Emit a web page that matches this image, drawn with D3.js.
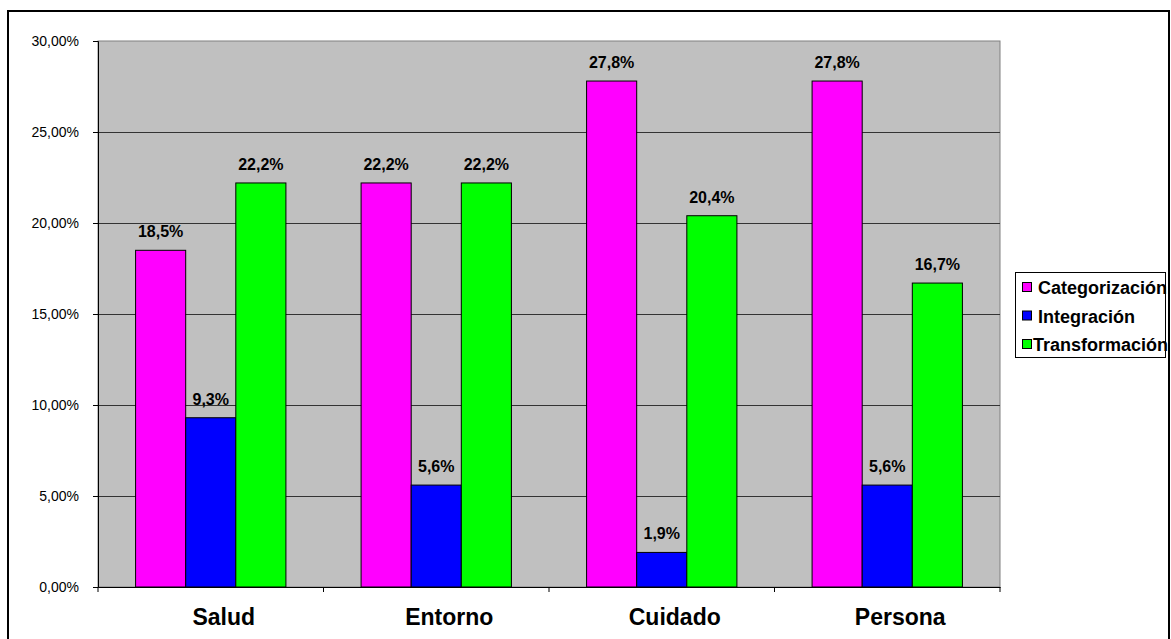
<!DOCTYPE html>
<html><head><meta charset="utf-8">
<script src="https://cdn.jsdelivr.net/npm/d3@7/dist/d3.min.js"></script>
<style>body{margin:0;background:#fff;} svg{display:block;} text{font-family:"Liberation Sans",Arial,sans-serif !important;}</style>
</head><body>
<script>
const categories = ["Salud","Entorno","Cuidado","Persona"];
const seriesNames = ["Categorización","Integración","Transformación"];
const categorizacion = [18.5,22.2,27.8,27.8];
const integracion = [9.3,5.6,1.9,5.6];
const transformacion = [22.2,22.2,20.4,16.7];
const yTicks = [0,5,10,15,20,25,30];
const colors = ["#ff00ff","#0000ff","#00ff00"];
const series = [categorizacion, integracion, transformacion];

const W=1171,H=639;
const svg=d3.select("body").append("svg").attr("width",W).attr("height",H);
const defs=svg.append("defs");
defs.append("clipPath").attr("id","frame").append("rect").attr("x",8).attr("y",11).attr("width",1161).attr("height",700);

const root=svg.append("g").attr("clip-path","url(#frame)").attr("font-family","Liberation Sans");
const x0=98,x1=1000,y0=587,y1=41;
const x=d3.scaleBand().domain(categories).range([x0,x1]).paddingInner(0).paddingOuter(0);
const y=d3.scaleLinear().domain([0,30]).range([y0,y1]);
const bw=x.bandwidth()/4.5;
const xs=d3.scaleBand().domain(d3.range(3)).range([bw*0.75,bw*3.75]);

root.append("rect").attr("x",x0).attr("y",y1).attr("width",x1-x0).attr("height",y0-y1).attr("fill","#c0c0c0").attr("stroke","#808080").attr("stroke-width",1);
root.append("g").selectAll("line").data(yTicks.filter(d=>d>0&&d<30)).join("line")
 .attr("x1",x0).attr("x2",x1).attr("y1",d=>Math.round(y(d))+0.5).attr("y2",d=>Math.round(y(d))+0.5).attr("stroke","#333").attr("stroke-width",1);

categories.forEach((c,i)=>{
  series.forEach((s,j)=>{
    const bx=x(c)+xs(j), by=y(s[i]);
    root.append("rect").attr("x",bx).attr("y",by).attr("width",xs.bandwidth()).attr("height",y0-by)
      .attr("fill",colors[j]).attr("stroke","#000").attr("stroke-width",1);
    root.append("text").attr("x",bx+xs.bandwidth()/2).attr("y",by-13).attr("text-anchor","middle")
      .attr("font-size",16).attr("font-weight","bold").text(String(s[i].toFixed(1)).replace(".",",")+"%");
  });
});

const ya=root.append("g").attr("transform",`translate(${x0},0)`).call(d3.axisLeft(y).tickValues(yTicks).tickSize(5).tickFormat(d=>d.toFixed(2).replace(".",",")+"%"));
ya.attr("font-family","Liberation Sans");
ya.select(".domain").attr("stroke","#000");
ya.selectAll("text").attr("font-size",14).attr("x",-19).attr("dy","0.35em").attr("fill","#000");
ya.selectAll("line").attr("stroke","#000");
const xa=root.append("g").attr("transform",`translate(0,${y0})`).call(d3.axisBottom(x).tickSize(0).tickFormat(""));
xa.select(".domain").attr("stroke","#000");
root.append("g").selectAll("line").data(d3.range(5)).join("line")
 .attr("x1",i=>x0+i*x.bandwidth()).attr("x2",i=>x0+i*x.bandwidth()).attr("y1",y0).attr("y2",y0+5).attr("stroke","#000");
root.append("g").selectAll("text").data(categories).join("text")
 .attr("x",d=>x(d)+x.bandwidth()/2+13).attr("y",625).attr("text-anchor","middle").attr("font-size",23).attr("font-weight","bold").text(d=>d);

// legend
const lg=root.append("g");
lg.append("rect").attr("x",1015.5).attr("y",272.5).attr("width",150).attr("height",85).attr("fill","#fff").attr("stroke","#000");
const lx=[1038,1038,1033];
seriesNames.forEach((n,j)=>{
  const base=294+j*28.5;
  lg.append("rect").attr("x",1022.5).attr("y",base-11.5).attr("width",9).attr("height",9).attr("fill",colors[j]).attr("stroke","#000");
  lg.append("text").attr("x",lx[j]).attr("y",base).attr("font-size",18).attr("font-weight","bold").text(n);
});

svg.append("rect").attr("x",8).attr("y",11).attr("width",1161).attr("height",700).attr("fill","none").attr("stroke","#000").attr("stroke-width",2);
</script>
</body></html>
